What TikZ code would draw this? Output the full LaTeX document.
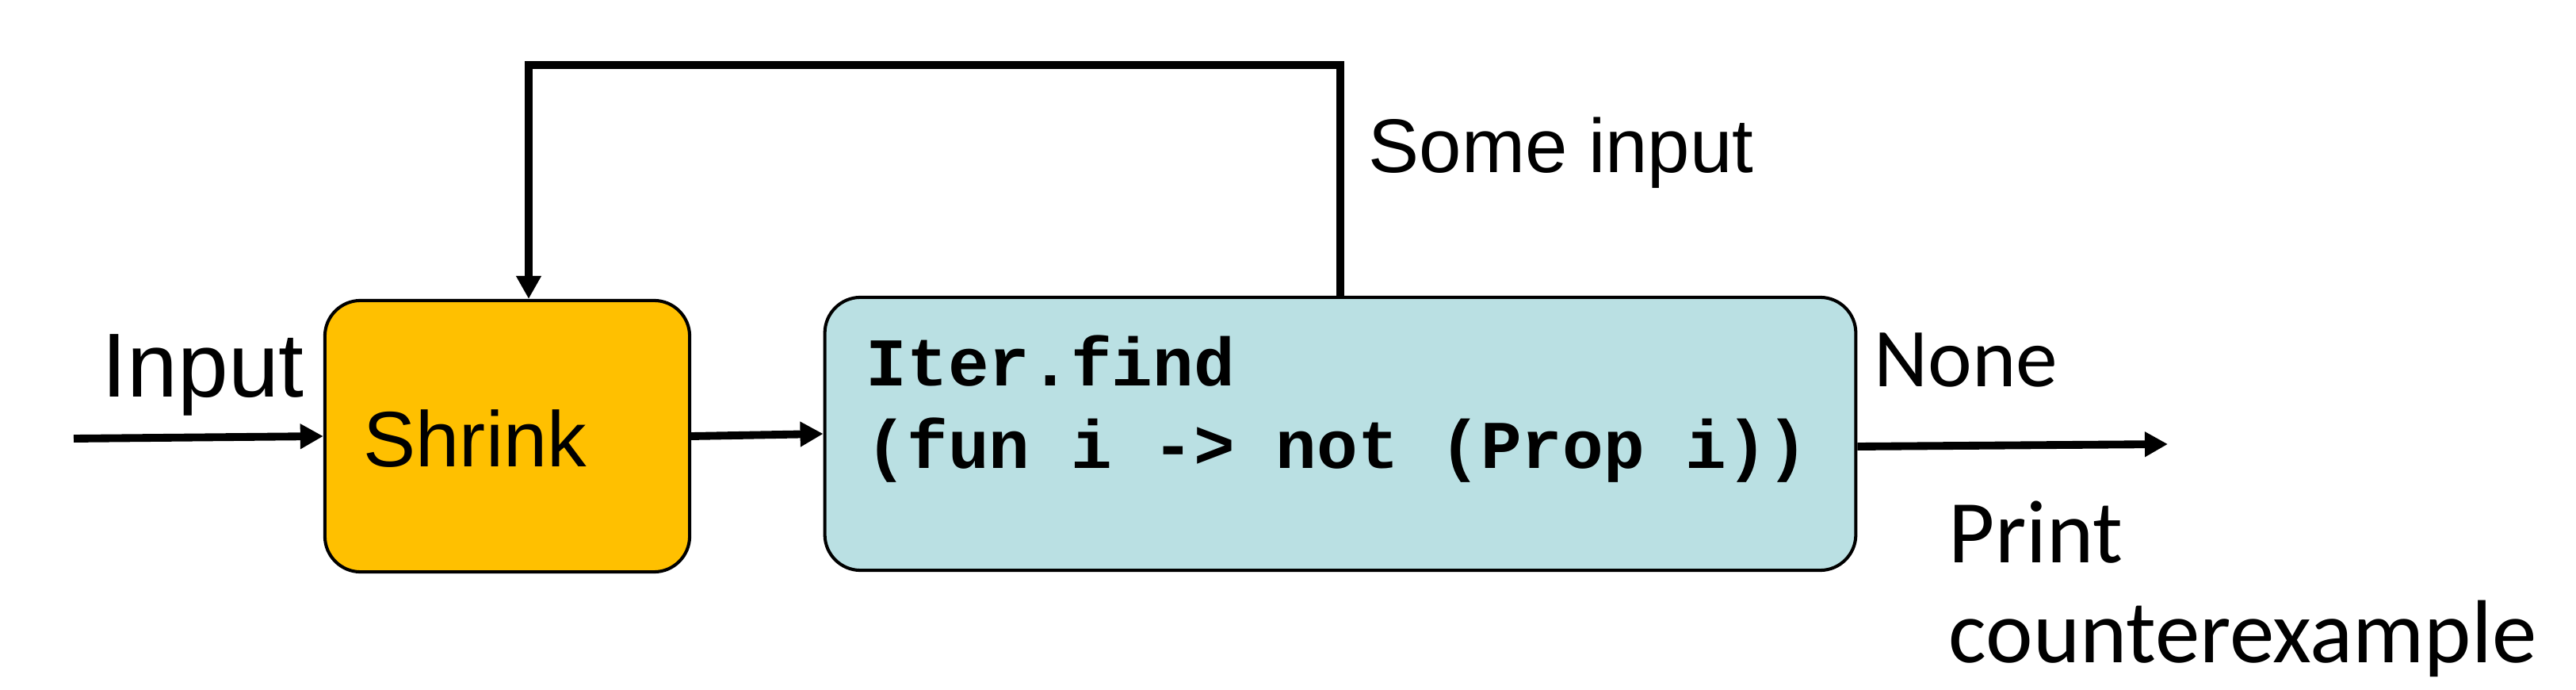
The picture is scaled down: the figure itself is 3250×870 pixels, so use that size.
\documentclass[tikz,border=0pt]{standalone}
\usepackage{fontspec}
\setmainfont{Liberation Sans}
\setmonofont{Liberation Mono}
\newfontfamily\calib{Carlito}
\usetikzlibrary{arrows.meta,calc}
\definecolor{shrinkfill}{HTML}{FFC000}
\definecolor{iterfill}{HTML}{BAE0E3}
\begin{document}
\begin{tikzpicture}[x=0.01cm,y=-0.01cm,
  box/.style={draw=black,line width=1.15pt,rounded corners=0.45cm,inner sep=0pt},
  conn/.style={line width=2.8pt,-{Triangle[length=0.29cm,width=0.30cm]}},
  lbl/.style={inner sep=0pt,anchor=base west}]
\useasboundingbox (0,0) rectangle (3250,870);
\node[box,fill=shrinkfill,minimum width=4.6cm,minimum height=3.42cm] (shrink) at (640,550) {};
\node[box,fill=iterfill,minimum width=13.0cm,minimum height=3.44cm] (iter) at (1691,547) {};
\node[lbl,font=\fontsize{32.6}{38}\selectfont] (inputlbl) at (128,500) {Input};
\node[lbl,font=\fontsize{28.2}{34}\selectfont] (shrinklbl) at (458,588) {Shrink};
\node[lbl,font=\fontsize{24.5}{30}\selectfont\ttfamily\bfseries] (code1) at (1092,486) {Iter.find};
\node[lbl,font=\fontsize{24.5}{30}\selectfont\ttfamily\bfseries] (code2) at (1092,590) {(fun i -> not (Prop i))};
\node[lbl,font=\fontsize{27.3}{32}\selectfont] (somelbl) at (1726,218) {Some input};
\node[lbl,font=\calib\fontsize{30}{36}\selectfont] (nonelbl) at (2364,487) {None};
\node[lbl,font=\calib\fontsize{32.1}{38}\selectfont] (printlbl) at (2458,709) {Print};
\node[lbl,font=\calib\fontsize{32.1}{38}\selectfont] (cexlbl) at (2458,835) {counterexample};
\coordinate (inStart) at (93,553);
\draw[conn] (inStart) -- (shrink.west);
\draw[conn] (shrink.east) -- (iter.west);
\coordinate (outEnd) at (2735,560);
\draw[conn] ($(iter.east)+(0,16)$) -- (outEnd);
\coordinate (loopTop) at (1000,82);
\coordinate (shrinkIn) at ($(shrink.north)+(27,0)$);
\draw[conn] (iter.north) -- (iter.north |- loopTop) -- (shrinkIn |- loopTop) -- (shrinkIn);
\end{tikzpicture}
\end{document}
